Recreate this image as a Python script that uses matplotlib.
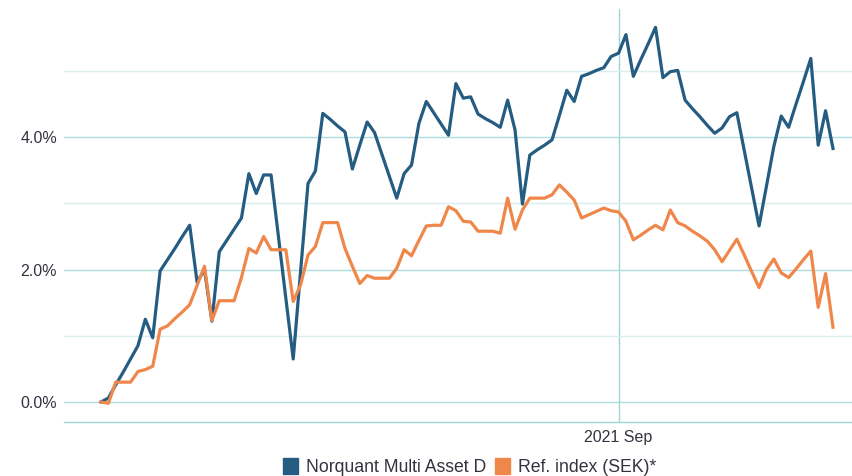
import matplotlib
matplotlib.use("Agg")
import matplotlib.pyplot as plt
import matplotlib.patches as mpatches
import pandas as pd

# weekly observations
start_date = "2020-04-29"
n_weeks = 100

fund = [0.00, 0.06, 0.26, 0.45, 0.65, 0.85, 1.25, 0.97, 1.98, 2.15,
        2.32, 2.50, 2.67, 1.81, 2.00, 1.22, 2.27, 2.44, 2.61, 2.78,
        3.45, 3.15, 3.43, 3.43, 2.50, 1.57, 0.65, 1.98, 3.30, 3.49,
        4.36, 4.27, 4.17, 4.08, 3.52, 3.88, 4.23, 4.07, 3.74, 3.41,
        3.08, 3.45, 3.58, 4.21, 4.54, 4.37, 4.20, 4.03, 4.81, 4.59,
        4.61, 4.35, 4.28, 4.22, 4.15, 4.56, 4.11, 2.99, 3.73, 3.81,
        3.88, 3.96, 4.33, 4.71, 4.54, 4.92, 4.96, 5.01, 5.05, 5.22,
        5.27, 5.55, 4.92, 5.17, 5.41, 5.66, 4.90, 4.99, 5.01, 4.56,
        4.43, 4.31, 4.18, 4.06, 4.14, 4.31, 4.37, 3.80, 3.23, 2.66,
        3.26, 3.86, 4.32, 4.15, 4.50, 4.84, 5.19, 3.88, 4.40, 3.83]

ref_index = [0.00, -0.02, 0.30, 0.30, 0.30, 0.46, 0.49, 0.54, 1.10, 1.15,
             1.26, 1.36, 1.47, 1.76, 2.05, 1.23, 1.53, 1.53, 1.53, 1.88,
             2.32, 2.25, 2.50, 2.30, 2.30, 2.30, 1.52, 1.77, 2.22, 2.35,
             2.71, 2.71, 2.71, 2.32, 2.05, 1.79, 1.91, 1.87, 1.87, 1.87,
             2.02, 2.30, 2.21, 2.44, 2.66, 2.67, 2.67, 2.95, 2.89, 2.73,
             2.72, 2.58, 2.58, 2.58, 2.55, 3.08, 2.61, 2.90, 3.08, 3.08,
             3.08, 3.13, 3.28, 3.17, 3.05, 2.78, 2.83, 2.88, 2.93, 2.89,
             2.87, 2.73, 2.45, 2.52, 2.60, 2.67, 2.60, 2.90, 2.71, 2.66,
             2.58, 2.51, 2.43, 2.30, 2.12, 2.29, 2.46, 2.22, 1.97, 1.73,
             2.00, 2.16, 1.95, 1.88, 2.01, 2.15, 2.28, 1.43, 1.94, 1.13]

labels = ["Norquant Multi Asset D", "Ref. index (SEK)*"]
colors = ["#255c82", "#f0874a"]

dates = pd.date_range(start_date, periods=n_weeks, freq="7D")

plt.rcParams['font.family'] = ['Liberation Sans', 'DejaVu Sans']
text_col = "#333340"

fig = plt.figure(figsize=(8.52, 4.76), dpi=100)
ax = fig.add_axes([64 / 852, 54 / 476, 1 - 64 / 852, 413 / 476])

ax.plot(dates, fund, color=colors[0], linewidth=2.3, zorder=3)
ax.plot(dates, ref_index, color=colors[1], linewidth=2.3, zorder=4)

t0 = pd.Timestamp(start_date)
ax.set_xlim(t0 - pd.Timedelta(days=35), t0 + pd.Timedelta(days=711))
ax.set_ylim(-0.302, 5.937)

tick = pd.Timestamp("2021-09-01")
ax.set_xticks([tick])
ax.set_xticklabels(["2021 Sep"])
ax.axvline(tick, color="#9fd4d7", linewidth=1, zorder=1)

ax.set_yticks([0, 2, 4])
ax.set_yticklabels(["0.0%", "2.0%", "4.0%"])
for v in [0, 2, 4]:
    ax.axhline(v, color="#b0dcdd", linewidth=1, zorder=1)
for v in [1, 3, 5]:
    ax.axhline(v, color="#d8eeef", linewidth=1, zorder=1)

for s in ["top", "right", "left"]:
    ax.spines[s].set_visible(False)
ax.spines["bottom"].set_color("#9fd3d6")
ax.spines["bottom"].set_linewidth(1)
ax.tick_params(axis="both", length=0, labelsize=11.5, labelcolor=text_col)
ax.tick_params(axis="x", pad=6)
ax.tick_params(axis="y", pad=5)

handles = [mpatches.Patch(color=c, label=l) for c, l in zip(colors, labels)]
fig.legend(handles=handles, loc="upper center", bbox_to_anchor=(470 / 852, 27 / 476),
           ncol=2, frameon=False, fontsize=12.7, handlelength=0.85, handleheight=1.05,
           handletextpad=0.45, columnspacing=0.5, borderpad=0, labelcolor=text_col)

fig.savefig("out.png", dpi=100)
